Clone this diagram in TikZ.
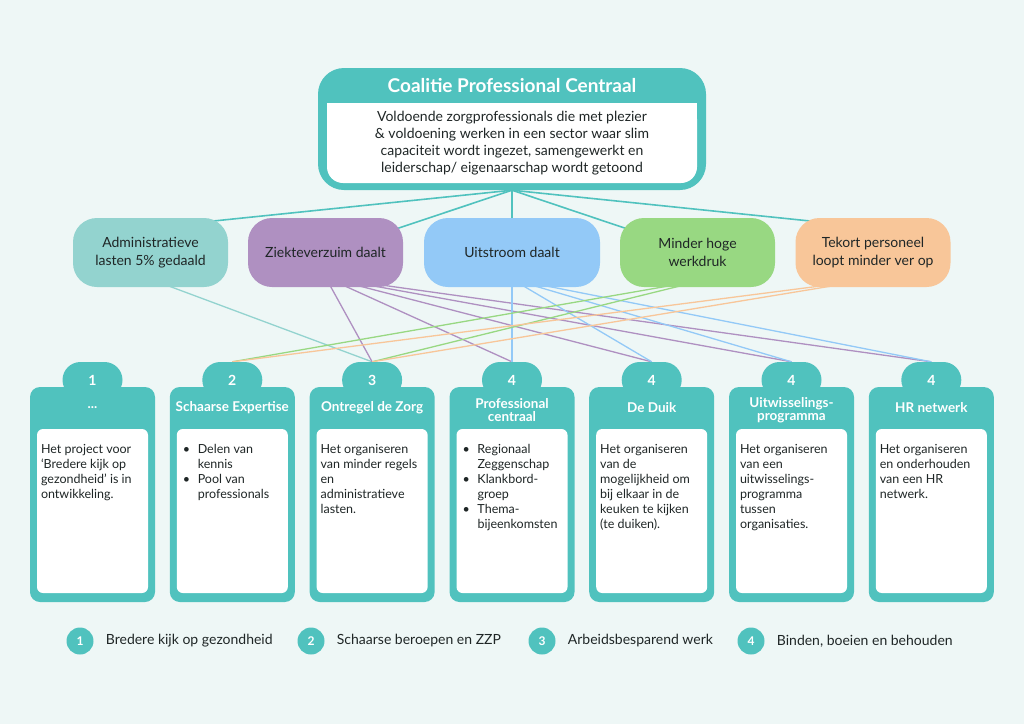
\documentclass[tikz,border=0pt]{standalone}
\usepackage{fontspec}
\setmainfont{Lato}
\usetikzlibrary{positioning}
\definecolor{cpBack}{HTML}{EEF7F6}
\definecolor{cpTeal}{HTML}{50C2BE}
\definecolor{cpInk}{HTML}{1F2626}
\definecolor{cpAdm}{HTML}{93D3CF}
\definecolor{cpZiek}{HTML}{AF90C1}
\definecolor{cpUit}{HTML}{93C9F7}
\definecolor{cpMind}{HTML}{98D882}
\definecolor{cpTek}{HTML}{F8C699}
\pgfdeclarelayer{back}
\pgfsetlayers{back,main}
\newcommand{\cpitem}{\hspace*{2pt}\makebox[15pt][l]{\textbullet}}
\newcommand{\cpindent}{\hspace*{17pt}}
\tikzset{
  every node/.style={inner sep=0pt},
  coalbox/.style={fill=cpTeal, rounded corners=26pt, minimum width=388pt, minimum height=122pt},
  coaltitle/.style={text=white, font=\bfseries\fontsize{19}{22}\selectfont},
  goalbox/.style={fill=white, rounded corners=16pt, minimum width=370pt, minimum height=80pt,
    align=center, text=cpInk, font=\fontsize{14}{17}\selectfont},
  midbox/.style={rounded corners=24pt, minimum width=155pt, minimum height=69pt,
    align=center, text=cpInk, font=\fontsize{14}{18}\selectfont},
  card/.style={fill=cpTeal, rounded corners=10pt, minimum width=125pt, minimum height=215pt},
  tabbox/.style={fill=cpTeal, rounded corners=18pt, minimum width=60pt, minimum height=36pt,
    text=white, font=\bfseries\fontsize{14}{16}\selectfont},
  cardbox/.style={fill=white, rounded corners=6pt, minimum width=111pt, minimum height=164pt},
  cardtitle/.style={text=white, align=center, font=\bfseries\fontsize{13.5}{13}\selectfont},
  cardtext/.style={anchor=north west, align=left, text=cpInk, font=\fontsize{12.5}{15}\selectfont},
  toplink/.style={draw=cpTeal, line width=1.6pt},
  link/.style={line width=1.3pt},
  legdot/.style={circle, fill=cpTeal, minimum size=27pt, text=white,
    font=\bfseries\fontsize{12}{14}\selectfont},
  legtext/.style={anchor=west, text=cpInk, font=\fontsize{14}{17}\selectfont},
}

\begin{document}
\begin{tikzpicture}[x=1pt, y=-1pt]
\begin{pgfonlayer}{back}
\fill[cpBack] (0,0) rectangle (1024,724);
\end{pgfonlayer}
\useasboundingbox (0,0) rectangle (1024,724);

% coalitie
\node[coalbox] (coal) at (512,129) {};
\node[coaltitle] (title) at (512,86) {Coalitie Professional Centraal};
\fill[white] (327,103) rectangle (697,140);
\node[goalbox] (goal) at (512,143) {Voldoende zorgprofessionals die met plezier\\
  \& voldoening werken in een sector waar slim\\
  capaciteit wordt ingezet, samengewerkt en\\
  leiderschap/ eigenaarschap wordt getoond};

% doelen
\node[midbox, fill=cpAdm] (adm) at (150.5,252.5) {Administratieve\\lasten 5\% gedaald};
\node[midbox, fill=cpZiek] (ziek) at (325.5,252.5) {Ziekteverzuim daalt};
\node[midbox, fill=cpUit, minimum width=176pt] (uit) at (512,252.5) {Uitstroom daalt};
\node[midbox, fill=cpMind] (mind) at (697.5,252.5) {Minder hoge\\werkdruk};
\node[midbox, fill=cpTek] (tek) at (873,252.5) {Tekort personeel\\loopt minder ver op};

% kaarten
\foreach \i/\x/\n in {1/92.5/1, 2/232.3/2, 3/372.1/3, 4/512/4, 5/651.7/4, 6/791.5/4, 7/931.3/4} {
  \node[card] (c\i) at (\x,494.5) {};
  \node[tabbox] (t\i) at (\x,380) {\n};
  \node[cardbox] (b\i) at (\x,511) {};
}
\node[cardtitle] (h1) at ([yshift=-21pt]c1.north) {...};
\node[cardtitle] (h2) at ([yshift=-21pt]c2.north) {Schaarse Expertise};
\node[cardtitle] (h3) at ([yshift=-21pt]c3.north) {Ontregel de Zorg};
\node[cardtitle] (h4) at ([yshift=-23pt]c4.north) {Professional\\centraal};
\node[cardtitle] (h5) at ([yshift=-21pt]c5.north) {De Duik};
\node[cardtitle] (h6) at ([yshift=-23pt]c6.north) {Uitwisselings-\\programma};
\node[cardtitle] (h7) at ([yshift=-21pt]c7.north) {HR netwerk};

\node[cardtext] (p1) at ([xshift=4pt,yshift=-15pt]b1.north west)
  {Het project voor\\`Bredere kijk op\\gezondheid' is in\\ontwikkeling.};
\node[cardtext] (p2) at ([xshift=4pt,yshift=-15pt]b2.north west)
  {\cpitem Delen van\\\cpindent kennis\\\cpitem Pool van\\\cpindent professionals};
\node[cardtext] (p3) at ([xshift=4pt,yshift=-15pt]b3.north west)
  {Het organiseren\\van minder regels\\en\\administratieve\\lasten.};
\node[cardtext] (p4) at ([xshift=4pt,yshift=-15pt]b4.north west)
  {\cpitem Regionaal\\\cpindent Zeggenschap\\\cpitem Klankbord-\\\cpindent groep\\
   \cpitem Thema-\\\cpindent bijeenkomsten};
\node[cardtext] (p5) at ([xshift=4pt,yshift=-15pt]b5.north west)
  {Het organiseren\\van de\\mogelijkheid om\\bij elkaar in de\\keuken te kijken\\(te duiken).};
\node[cardtext] (p6) at ([xshift=4pt,yshift=-15pt]b6.north west)
  {Het organiseren\\van een\\uitwisselings-\\programma\\tussen\\organisaties.};
\node[cardtext] (p7) at ([xshift=4pt,yshift=-15pt]b7.north west)
  {Het organiseren\\en onderhouden\\van een HR\\netwerk.};

% legenda
\node[legdot] (l1) at (80,641) {1};
\node[legtext, right=12pt of l1] (k1) {Bredere kijk op gezondheid};
\node[legdot] (l2) at (311,641) {2};
\node[legtext, right=12pt of l2] (k2) {Schaarse beroepen en ZZP};
\node[legdot] (l3) at (542,641) {3};
\node[legtext, right=12pt of l3] (k3) {Arbeidsbesparend werk};
\node[legdot] (l4) at (751,641) {4};
\node[legtext, right=12pt of l4] (k4) {Binden, boeien en behouden};

% verbindingen
\begin{pgfonlayer}{back}
\draw[toplink] (coal.south) -- ([yshift=25pt]adm.center);
\draw[toplink] (coal.south) -- (ziek.center);
\draw[toplink] (coal.south) -- (uit.center);
\draw[toplink] (coal.south) -- (mind.center);
\draw[toplink] (coal.south) -- ([yshift=25pt]tek.center);
\draw[link, cpAdm] ([yshift=8pt]adm.south) -- (t3.north);
\foreach \k in {3,...,7}
  \draw[link, cpZiek] ([yshift=10pt]ziek.south) -- (t\k.north);
\foreach \k in {4,...,7}
  \draw[link, cpUit] ([yshift=8pt]uit.south) -- (t\k.north);
\foreach \k in {2,3}
  \draw[link, cpMind] ([xshift=10pt,yshift=8pt]mind.south) -- (t\k.north);
\foreach \k in {2,3}
  \draw[link, cpTek] ([yshift=8pt]tek.south) -- (t\k.north);
\end{pgfonlayer}
\end{tikzpicture}
\end{document}
